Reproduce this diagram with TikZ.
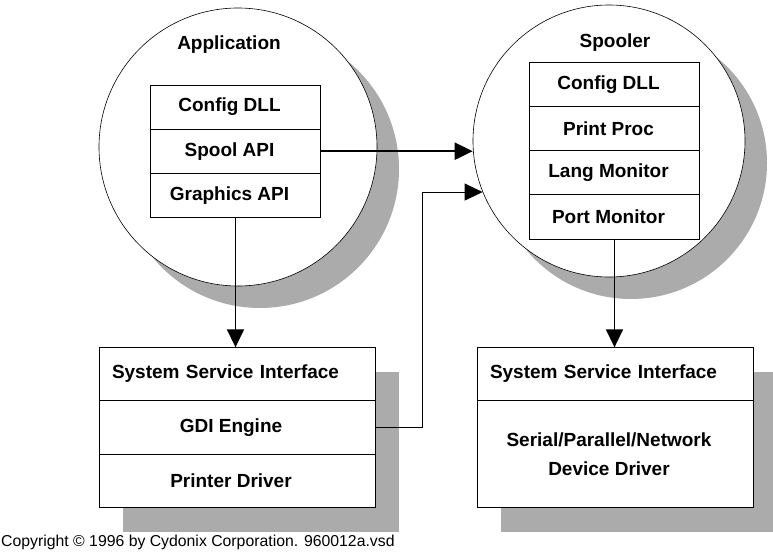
\documentclass[tikz,border=0pt]{standalone}
\usepackage{fontspec}
\setmainfont{Liberation Sans}
\usetikzlibrary{backgrounds,fit,shadows}
\usetikzlibrary{shapes.geometric, arrows.meta, positioning}

\begin{document}
\begin{tikzpicture}[x=1pt,y=-1pt,font=\bfseries\fontsize{19}{22}\selectfont]
\tikzstyle{proc} = [circle, draw=black, line width=0.6pt, fill=white, inner sep=0pt, drop shadow={shadow xshift=22pt, shadow yshift=-22pt, fill=black!33, opacity=1}]
\tikzstyle{lefttext} = [execute at begin node={\kern-12pt}]
\tikzstyle{box} = [rectangle, draw, line width=0.7pt, outer sep=0pt, inner sep=0pt, minimum width=170pt, minimum height=44.2pt, lefttext]
\tikzstyle{layer} = [rectangle, draw, line width=0.7pt, outer sep=0pt, inner sep=0pt, minimum width=276pt, minimum height=53.33pt]
\tikzstyle{ssi} = [text width=250pt, inner xsep=13pt, align=left]
\tikzstyle{bigbox} = [rectangle, draw, line width=0.7pt, fill=white, inner sep=0pt, drop shadow={shadow xshift=24pt, shadow yshift=-25pt, fill=black!33, opacity=1}]
\tikzstyle{arrow} = [line width=1.6pt, -{Triangle[length=18pt,width=17pt]}]

\useasboundingbox (0,0) rectangle (773,556);

% Application
\node[proc, minimum size=278pt] (app) at (238,147) {};
\node (applbl) at (229,45) {Application};
\node[box] (appcfg) at (235.5,107) {Config DLL};
\node[box, below=0pt of appcfg] (spoolapi) {Spool API};
\node[box, below=0pt of spoolapi] (gfxapi) {Graphics API};

% Spooler
\node[proc, minimum size=272pt] (spool) at (609,141) {};
\node (spoollbl) at (615,43) {Spooler};
\node[box] (spoolcfg) at (614.5,84.2) {Config DLL};
\node[box, below=0pt of spoolcfg] (printproc) {Print Proc};
\node[box, below=0pt of printproc] (langmon) {Lang Monitor};
\node[box, below=0pt of langmon] (portmon) {Port Monitor};

% Kernel side, graphics
\node[layer, ssi] (sysl) at (237,374) {System Service Interface};
\node[layer, lefttext, below=0pt of sysl] (gdi) {GDI Engine};
\node[layer, lefttext, below=0pt of gdi] (prndrv) {Printer Driver};
%
\begin{pgfonlayer}{background}
  \node[bigbox] [fit = (sysl) (gdi) (prndrv)] (kernl) {};
\end{pgfonlayer}

% Kernel side, ports
\node[layer, ssi] (sysr) at (615,374) {System Service Interface};
\node[layer, lefttext, below=0pt of sysr, minimum height=106.67pt, align=center, font=\bfseries\fontsize{19}{29}\selectfont] (devdrv) {Serial/Parallel/Network\\Device Driver};
%
\begin{pgfonlayer}{background}
  \node[bigbox] [fit = (sysr) (devdrv)] (kernr) {};
\end{pgfonlayer}

\draw [arrow] [line width=2.2pt] (spoolapi.east) -- (spoolapi.east -| spool.west);
\draw [arrow] (gfxapi.south) -- (gfxapi.south |- sysl.north);
\draw [arrow] (portmon.south) -- (portmon.south |- sysr.north);
\draw [arrow] [line width=0.8pt] (gdi.east) -| ([xshift=-60pt]spool.202) -- (spool.202);

\node[anchor=west, inner sep=0pt, font=\fontsize{15.8}{19}\selectfont] (copyright) at (1,542) {Copyright © 1996 by Cydonix Corporation. 960012a.vsd};
%
\end{tikzpicture}
\end{document}
